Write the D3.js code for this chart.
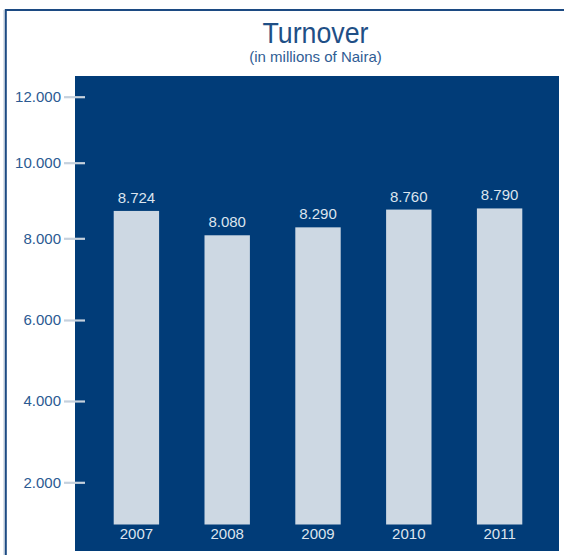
<!DOCTYPE html>
<html>
<head>
<meta charset="utf-8">
<script src="https://cdn.jsdelivr.net/npm/d3@7"></script>
<style>
  html, body { margin: 0; padding: 0; background: #fff; }
  svg { display: block; font-family: "Liberation Sans", Helvetica, Arial, sans-serif; }
</style>
</head>
<body>
<svg id="chart" width="564" height="555"></svg>
<script>
// ---- data ----
const years = ["2007", "2008", "2009", "2010", "2011"];
const turnover = [8724, 8080, 8290, 8760, 8790];
const valueLabels = ["8.724", "8.080", "8.290", "8.760", "8.790"];
const tickValues = [2000, 4000, 6000, 8000, 10000, 12000];
const tickLabels = ["2.000", "4.000", "6.000", "8.000", "10.000", "12.000"];
// tick positions as drawn in the original (uneven spacing)
const tickPositions = [482.3, 401, 320, 238.3, 162.7, 96.7];

// ---- layout ----
const W = 564, H = 555;
const plot = { left: 75, right: 559, top: 76, bottom: 551 };
const labelBand = 26.5;
const barBase = plot.bottom - labelBand;

const svg = d3.select("#chart");

// frame
svg.append("line").attr("x1", 4).attr("x2", 4).attr("y1", 10).attr("y2", H)
  .attr("stroke", "#b9c7d7").attr("stroke-width", 1);
svg.append("rect")
  .attr("x", 5.8).attr("y", 10).attr("width", W + 20).attr("height", H + 20)
  .attr("fill", "none").attr("stroke", "#1c4a82").attr("stroke-width", 2);

// title
const cx = 315.5;
svg.append("text").attr("x", cx).attr("y", 43.3)
  .attr("text-anchor", "middle").attr("fill", "#1f4f86")
  .attr("font-size", 30).attr("font-weight", 300)
  .attr("textLength", 106).attr("lengthAdjust", "spacingAndGlyphs")
  .text("Turnover");
svg.append("text").attr("x", cx).attr("y", 62)
  .attr("text-anchor", "middle").attr("fill", "#2f5d94")
  .attr("font-size", 15)
  .text("(in millions of Naira)");

// plot background
svg.append("rect")
  .attr("x", plot.left).attr("y", plot.top)
  .attr("width", plot.right - plot.left).attr("height", plot.bottom - plot.top)
  .attr("fill", "#013c78");

// scales
const x = d3.scaleBand().domain(years).range([91, 545]).paddingInner(0.5).paddingOuter(0.25);
const y = d3.scaleLinear().domain(tickValues).range(tickPositions);

// y axis
const yAxis = d3.axisLeft(y).tickValues(tickValues)
  .tickFormat((d, i) => tickLabels[i]).tickSize(21).tickPadding(3);
const gy = svg.append("g").attr("transform", `translate(${plot.left + 10},0)`).call(yAxis);
gy.select(".domain").remove();
gy.selectAll(".tick line").attr("stroke", "#c6d1dd").attr("stroke-width", 2.2);
gy.selectAll(".tick text").attr("fill", "#2b5a92").attr("font-size", 15)
  .attr("font-family", "'Liberation Sans', Helvetica, Arial, sans-serif");

// bars
const data = years.map((yr, i) => ({ yr, v: turnover[i], label: valueLabels[i] }));
svg.append("g").selectAll("rect").data(data).join("rect")
  .attr("x", d => x(d.yr)).attr("width", x.bandwidth())
  .attr("y", d => y(d.v)).attr("height", d => barBase - y(d.v))
  .attr("fill", "#cdd8e3");

// value labels
svg.append("g").selectAll("text").data(data).join("text")
  .attr("x", d => x(d.yr) + x.bandwidth() / 2).attr("y", d => y(d.v) - 8)
  .attr("text-anchor", "middle").attr("fill", "#dce4ee").attr("font-size", 15)
  .text(d => d.label);

// x axis labels
const xAxis = d3.axisBottom(x).tickSize(0).tickPadding(0);
const gx = svg.append("g").attr("transform", `translate(0,${barBase})`).call(xAxis);
gx.select(".domain").remove();
gx.selectAll(".tick text").attr("fill", "#dce4ee").attr("font-size", 15)
  .attr("font-family", "'Liberation Sans', Helvetica, Arial, sans-serif")
  .attr("dy", null).attr("y", 14.5);
</script>
</body>
</html>
